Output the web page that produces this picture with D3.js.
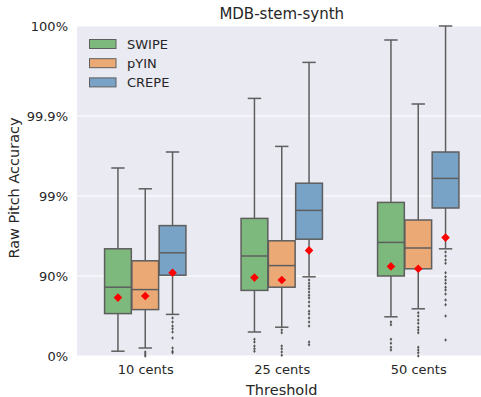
<!DOCTYPE html>
<html>
<head>
<meta charset="utf-8">
<script src="https://cdn.jsdelivr.net/npm/d3@7"></script>
<style>
  html, body { margin: 0; padding: 0; background: #fff; }
  svg { display: block; font-family: "DejaVu Sans", sans-serif; }
</style>
</head>
<body>
<svg id="chart" width="481" height="397"></svg>
<script>
// ---- Data (values in "nines": -log10(1 - accuracy)) ----
const categories = ["10 cents", "25 cents", "50 cents"];
const methods = ["SWIPE", "pYIN", "CREPE"];
const yTickValues = [0, 1, 2, 3, 4.125];
const yTickLabels = ["0%", "90%", "99%", "99.9%", "100%"];

// [method][category]
const whiskerLow  = [[0.06, 0.30, 0.49], [0.10, 0.36, 0.59], [0.52, 0.99, 1.34]];
const q1          = [[0.53, 0.82, 1.00], [0.58, 0.86, 1.09], [1.01, 1.46, 1.85]];
const median      = [[0.86, 1.25, 1.42], [0.83, 1.13, 1.35], [1.29, 1.82, 2.22]];
const q3          = [[1.34, 1.72, 1.92], [1.19, 1.44, 1.70], [1.63, 2.16, 2.55]];
const whiskerHigh = [[2.35, 3.22, 3.95], [2.09, 2.62, 3.15], [2.55, 3.67, 4.125]];
const means       = [[0.73, 0.98, 1.12], [0.75, 0.95, 1.09], [1.04, 1.32, 1.48]];
const outliers = [
  [[], [0.21, 0.175, 0.125, 0.09, 0.06], [0.425, 0.39, 0.21, 0.16, 0.11, 0.075]],
  [[0.05, 0.025, 0.0], [0.325, 0.29, 0.125, 0.09, 0.05, 0.01],
   [0.54, 0.50, 0.45, 0.41, 0.36, 0.325, 0.29, 0.11, 0.075, 0.04, 0.0]],
  [[0.475, 0.425, 0.375, 0.34, 0.30, 0.225, 0.10, 0.06, 0.04],
   [0.95, 0.91, 0.875, 0.84, 0.80, 0.76, 0.725, 0.675, 0.625, 0.56, 0.525, 0.475, 0.425, 0.375, 0.175, 0.14],
   [1.30, 1.25, 1.20, 1.16, 1.04, 0.99, 0.95, 0.91, 0.86, 0.825, 0.775, 0.70, 0.64, 0.50, 0.20]]
];

// ---- Styles ----
const fills = ["#7db97d", "#eba975", "#78a3c6"];
const edge = "#5e5e5e";
const textColor = "#262626";

const svg = d3.select("#chart");
const pLeft = 77, pRight = 486.5, pTop = 26, pBottom = 356;

const x = d3.scaleLinear().domain([-0.5, 2.5]).range([pLeft, pRight]);
const y = d3.scaleLinear().domain([0, 4.125]).range([pBottom, pTop]).clamp(true);
const unit = x(1) - x(0);
const hueOffset = [-0.2, 0, 0.2];
const boxW = 0.2 * 0.98 * unit;

// background
svg.append("rect").attr("x", pLeft).attr("y", pTop)
  .attr("width", pRight - pLeft).attr("height", pBottom - pTop).attr("fill", "#EAEAF2");

// gridlines
svg.append("g").selectAll("line").data(yTickValues).join("line")
  .attr("x1", pLeft).attr("x2", pRight)
  .attr("y1", d => y(d)).attr("y2", d => y(d))
  .attr("stroke", "#fff").attr("stroke-width", 1.2);

// y axis tick labels
const yAxis = d3.axisLeft(y).tickValues(yTickValues)
  .tickFormat((d, i) => yTickLabels[i]).tickSize(0).tickPadding(9);
const yG = svg.append("g").attr("transform", `translate(${pLeft},0)`).call(yAxis);
yG.select(".domain").remove();
yG.selectAll("text").attr("font-size", 13).attr("fill", textColor)
  .attr("font-family", "DejaVu Sans");

// x axis tick labels
const xAxis = d3.axisBottom(x).tickValues([0, 1, 2])
  .tickFormat((d, i) => categories[i]).tickSize(0).tickPadding(9);
const xG = svg.append("g").attr("transform", `translate(0,${pBottom})`).call(xAxis);
xG.select(".domain").remove();
xG.selectAll("text").attr("font-size", 13).attr("fill", textColor)
  .attr("font-family", "DejaVu Sans");

// boxes
methods.forEach((m, mi) => {
  const g = svg.append("g");
  categories.forEach((c, ci) => {
    const cx = x(ci + hueOffset[mi]);
    const capW = boxW / 2;
    // whiskers
    g.append("line").attr("x1", cx).attr("x2", cx)
      .attr("y1", y(q3[mi][ci])).attr("y2", y(whiskerHigh[mi][ci]))
      .attr("stroke", edge).attr("stroke-width", 1.5);
    g.append("line").attr("x1", cx).attr("x2", cx)
      .attr("y1", y(q1[mi][ci])).attr("y2", y(whiskerLow[mi][ci]))
      .attr("stroke", edge).attr("stroke-width", 1.5);
    [whiskerHigh[mi][ci], whiskerLow[mi][ci]].forEach(v => {
      g.append("line").attr("x1", cx - capW / 2).attr("x2", cx + capW / 2)
        .attr("y1", y(v)).attr("y2", y(v))
        .attr("stroke", edge).attr("stroke-width", 1.5);
    });
    // box
    g.append("rect").attr("x", cx - boxW / 2).attr("width", boxW)
      .attr("y", y(q3[mi][ci])).attr("height", y(q1[mi][ci]) - y(q3[mi][ci]))
      .attr("fill", fills[mi]).attr("stroke", edge).attr("stroke-width", 1.5);
    // median
    g.append("line").attr("x1", cx - boxW / 2).attr("x2", cx + boxW / 2)
      .attr("y1", y(median[mi][ci])).attr("y2", y(median[mi][ci]))
      .attr("stroke", edge).attr("stroke-width", 1.5);
    // outliers (thin diamonds)
    g.selectAll(null).data(outliers[mi][ci]).join("path")
      .attr("d", d => {
        const px = cx, py = y(d), rx = 1.3, ry = 1.8;
        return `M${px},${py - ry}L${px + rx},${py}L${px},${py + ry}L${px - rx},${py}Z`;
      })
      .attr("fill", "#555");
    // mean diamond
    const my = y(means[mi][ci]), r = 4.3;
    g.append("path")
      .attr("d", `M${cx},${my - r}L${cx + r},${my}L${cx},${my + r}L${cx - r},${my}Z`)
      .attr("fill", "#ff0000");
  });
});

// title
svg.append("text").attr("x", (pLeft + pRight) / 2).attr("y", 18.5)
  .attr("text-anchor", "middle").attr("font-size", 15).attr("fill", textColor)
  .text("MDB-stem-synth");

// axis labels
svg.append("text").attr("x", (pLeft + pRight) / 2).attr("y", 395)
  .attr("text-anchor", "middle").attr("font-size", 14.5).attr("fill", textColor)
  .text("Threshold");
svg.append("text").attr("transform", "translate(19,188) rotate(-90)")
  .attr("text-anchor", "middle").attr("font-size", 14.5).attr("fill", textColor)
  .text("Raw Pitch Accuracy");

// legend
const leg = svg.append("g");
methods.forEach((m, mi) => {
  const cy = 44 + mi * 19.2;
  leg.append("rect").attr("x", 89.5).attr("y", cy - 4.5).attr("width", 26.5).attr("height", 9)
    .attr("fill", fills[mi]).attr("stroke", edge).attr("stroke-width", 1);
  leg.append("text").attr("x", 127).attr("y", cy).attr("dy", "0.36em")
    .attr("font-size", 13).attr("fill", textColor).text(m);
});
</script>
</body>
</html>
